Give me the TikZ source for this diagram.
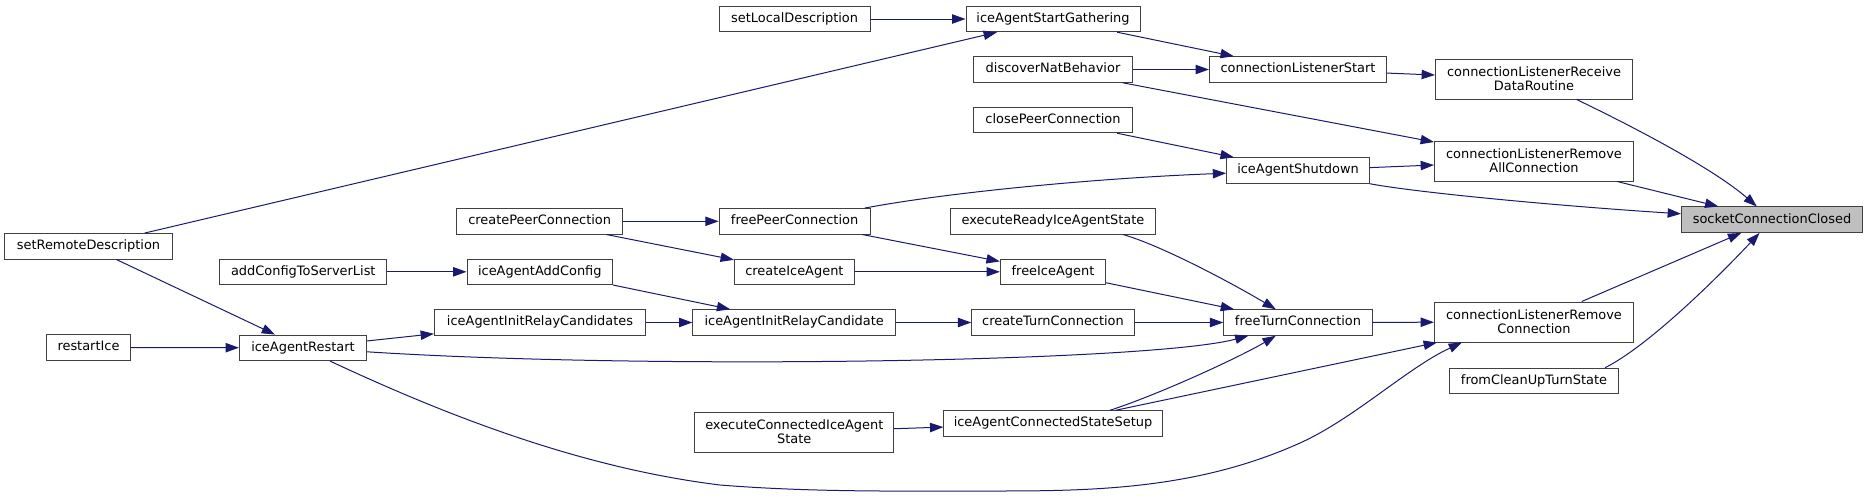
\documentclass[tikz,border=0pt]{standalone}
\usepackage{fontspec}
\setmainfont{DejaVu Sans}
\usetikzlibrary{arrows.meta,calc}
\definecolor{edgeblue}{HTML}{191970}
\definecolor{rootgray}{HTML}{BFBFBF}
\begin{document}
\begin{tikzpicture}[
  x=0.75pt,y=-0.75pt,
  font=\fontsize{9.7}{10.5}\selectfont,
  fn/.style={draw=black!75,line width=0.75pt,fill=white,inner sep=0pt,
             minimum height=19.1pt,text height=7pt,text depth=2pt},
  fn2/.style={draw=black!75,line width=0.75pt,fill=white,inner sep=0pt,
              minimum height=30pt,align=center},
  root/.style={fn,fill=rootgray},
  ar/.style={-{Triangle[length=10pt,width=7pt]},edgeblue,line width=0.75pt}]
\useasboundingbox (0,0) rectangle (1868,496);
% callers, left to right
\node[fn,minimum width=126pt] (srd) at (88.5,246.3) {setRemoteDescription};
\node[fn,minimum width=63.3pt] (rice) at (88.5,347.5) {restartIce};
\node[fn,minimum width=125pt] (acfg) at (303.3,271.8) {addConfigToServerList};
\node[fn,minimum width=95.3pt] (iar) at (303,347.8) {iceAgentRestart};
\node[fn,minimum width=124.5pt] (cpc) at (539.7,221.3) {createPeerConnection};
\node[fn,minimum width=109.1pt] (iaac) at (539.8,271.8) {iceAgentAddConfig};
\node[fn,minimum width=158.3pt] (ircs) at (540,322.5) {iceAgentInitRelayCandidates};
\node[fn,minimum width=113.2pt] (sld) at (794.6,19) {setLocalDescription};
\node[fn,minimum width=113.2pt] (fpc) at (794.6,221.3) {freePeerConnection};
\node[fn,minimum width=90pt] (cia) at (794.4,271.8) {createIceAgent};
\node[fn,minimum width=152pt] (irc) at (794.2,322.5) {iceAgentInitRelayCandidate};
\node[fn2,minimum width=149pt] (ecs) at (794.3,432) {executeConnectedIceAgent\\State};
\node[fn,minimum width=130.5pt] (iasg) at (1053,19) {iceAgentStartGathering};
\node[fn,minimum width=119.3pt] (dnb) at (1053,69.5) {discoverNatBehavior};
\node[fn,minimum width=119.3pt] (clpc) at (1053,120) {closePeerConnection};
\node[fn,minimum width=154pt] (ers) at (1053,221.3) {executeReadyIceAgentState};
\node[fn,minimum width=79pt] (fia) at (1053,271.8) {freeIceAgent};
\node[fn,minimum width=121.8pt] (ctc) at (1053,322.5) {createTurnConnection};
\node[fn,minimum width=163.7pt] (iacs) at (1053,423.5) {iceAgentConnectedStateSetup};
\node[fn,minimum width=132.8pt] (cls) at (1298,69.5) {connectionListenerStart};
\node[fn,minimum width=107pt] (ias) at (1298,170.5) {iceAgentShutdown};
\node[fn,minimum width=111.3pt] (ftc) at (1298,322.5) {freeTurnConnection};
\node[fn2,minimum width=147.8pt] (lrd) at (1534,79) {connectionListenerReceive\\DataRoutine};
\node[fn2,minimum width=149.3pt] (lra) at (1534,161) {connectionListenerRemove\\AllConnection};
\node[fn2,minimum width=149.3pt] (lrc) at (1534,322) {connectionListenerRemove\\Connection};
\node[fn,minimum width=126.8pt] (fcu) at (1534,381) {fromCleanUpTurnState};
\node[root,minimum width=135.8pt] (scc) at (1772,219.7) {socketConnectionClosed};
% calls
\draw[ar] (sld) -- (iasg); \draw[ar] (srd) -- (iasg);
\draw[ar] (iasg) -- (cls); \draw[ar] (dnb) -- (cls);
\draw[ar] (dnb) -- (lra); \draw[ar] (cls) -- (lrd);
\draw[ar] (lrd) .. controls (1640,130) and (1715,170) .. (scc);
\draw[ar] (clpc) -- (ias);
\draw[ar] (fpc) .. controls (950,192) and (1100,178) .. (ias);
\draw[ar] (ias) -- (lra);
\draw[ar] (ias) .. controls (1420,193) and (1560,206) .. (scc);
\draw[ar] (lra) -- (scc);
\draw[ar] (cpc) -- (fpc); \draw[ar] (cpc) -- (cia);
\draw[ar] (fpc) -- (fia); \draw[ar] (cia) -- (fia);
\draw[ar] ($(ers.south)+(70,0)$) .. controls (1160,245) and (1230,282) .. (ftc);
\draw[ar] (fia) -- (ftc);
\draw[ar] (acfg) -- (iaac); \draw[ar] (iaac.south east) -- (irc);
\draw[ar] (ircs) -- (irc); \draw[ar] (irc) -- (ctc); \draw[ar] (ctc) -- (ftc);
\draw[ar] (iar) -- (ircs); \draw[ar] (srd) -- (iar); \draw[ar] (rice) -- (iar);
\draw[ar] ($(iar.east)+(0,4)$) .. controls (650,370) and (1150,362) .. (ftc);
\draw[ar] ($(iar.south)+(27,0)$) .. controls (460,422) and (590,469) .. (720,485)
  .. controls (813,492.5) and (907,491) .. (1000,491)
  .. controls (1100,491) and (1200,488) .. (1300,443)
  .. controls (1354,418.7) and (1408,367.3) .. ($(lrc.south)+(-72,0)$);
\draw[ar] ($(iacs.north)+(57,0)$) .. controls (1160,394) and (1240,357) .. (ftc);
\draw[ar] (iacs) -- (lrc); \draw[ar] (ecs) -- (iacs);
\draw[ar] (ftc) -- (lrc); \draw[ar] (lrc) -- (scc);
\draw[ar] ($(fcu.north)+(71,0)$) .. controls (1650,345) and (1720,275) .. (scc);
\end{tikzpicture}
\end{document}
